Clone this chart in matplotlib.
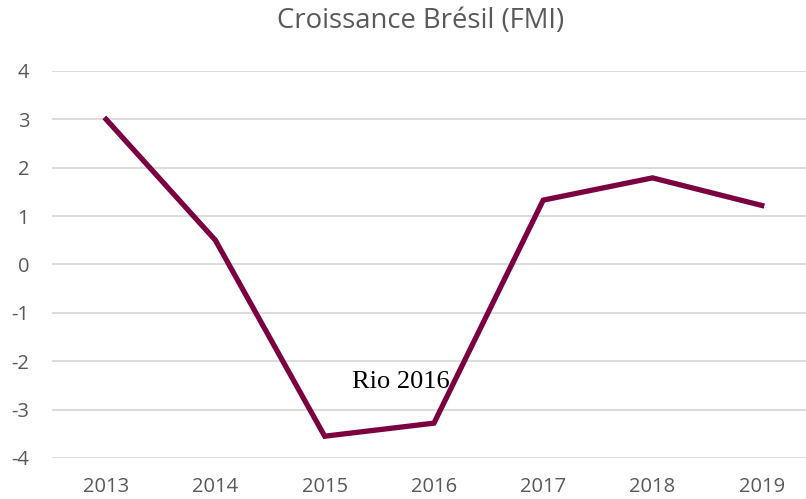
import matplotlib
matplotlib.use('Agg')
import matplotlib.pyplot as plt
from matplotlib.ticker import MultipleLocator

plt.rcParams['axes.unicode_minus'] = False

years = ['2013', '2014', '2015', '2016', '2017', '2018', '2019']
growth = [3.0, 0.5, -3.55, -3.28, 1.33, 1.79, 1.22]

fig = plt.figure(figsize=(8.06, 4.99), dpi=100)
ax = fig.add_axes([0.0639, 0.0822, 0.949, 0.7756])

x = list(range(len(years)))
ax.plot(x, growth, color='#7A0040', linewidth=3.8, solid_joinstyle='miter')

ax.set_xlim(-0.5, len(years) - 0.5)
ax.set_ylim(-4, 4)
ax.yaxis.set_major_locator(MultipleLocator(1))
ax.set_xticks(x)
ax.set_xticklabels(years)
ax.grid(axis='y', color='#D9D9D9', linewidth=1.3)
ax.set_axisbelow(True)
for s in ax.spines.values():
    s.set_visible(False)
ax.tick_params(length=0, labelsize=14.5, labelcolor='#595959')
ax.tick_params(axis='x', pad=14)
ax.tick_params(axis='y', pad=16)
for lbl in ax.get_xticklabels() + ax.get_yticklabels():
    lbl.set_family('Open Sans')

ax.text(2.25, -2.55, 'Rio 2016', family='Liberation Serif', fontsize=19, color='black')

fig.text(0.522, 0.957, 'Croissance Brésil (FMI)', ha='center', va='center',
         family='Open Sans', fontsize=19.8, color='#595959')

fig.savefig('out.png', dpi=100)
